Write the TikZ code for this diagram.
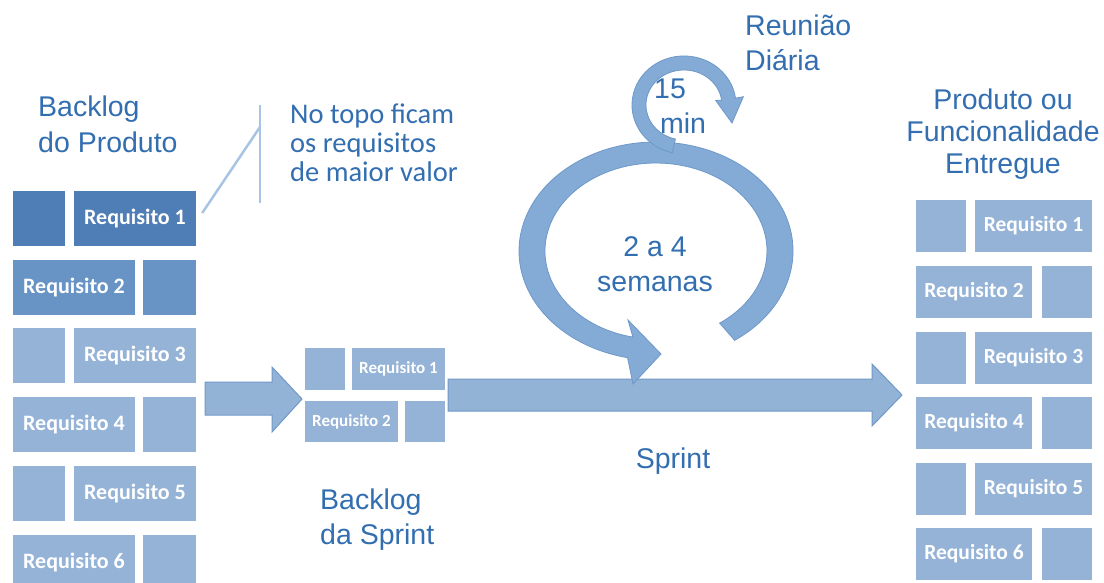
\documentclass[tikz,border=0pt]{standalone}
\usepackage{fontspec}
\setmainfont{Liberation Sans}
\newfontfamily\calfont{Carlito}
\definecolor{txt}{RGB}{50,110,176}
\definecolor{boxdark}{RGB}{79,125,181}
\definecolor{boxmid}{RGB}{103,148,197}
\definecolor{boxlight}{RGB}{149,179,215}
\definecolor{arrowfill}{RGB}{146,178,214}
\definecolor{arrowedge}{RGB}{112,152,200}
\definecolor{ringfill}{RGB}{132,171,214}
\definecolor{ringedge}{RGB}{110,152,200}
\definecolor{calloutline}{RGB}{168,196,228}
\begin{document}
\begin{tikzpicture}[x=1pt,y=-1pt,
  reqbox/.style={fill=boxlight, draw=none, inner sep=0pt, text=white,
    font=\calfont\bfseries\fontsize{22}{22}\selectfont},
  reqright/.style={reqbox, font=\calfont\bfseries\fontsize{21.5}{22}\selectfont},
  reqsmall/.style={reqbox, font=\calfont\bfseries\fontsize{17}{17}\selectfont},
  lbl/.style={text=txt, inner sep=0pt},
  blockarrow/.style={fill=arrowfill, draw=arrowedge, line width=1pt},
  ring/.style={fill=ringfill, draw=ringedge, line width=0.8pt}]
\useasboundingbox (0,0) rectangle (1104,582);
\fill[white] (0,0) rectangle (1104,582);

% ---- Backlog do Produto (left column)
\node[reqbox, fill=boxdark, minimum width=52pt, minimum height=55pt] (L1a) at (39,218.5) {};
\node[reqbox, fill=boxdark, minimum width=122pt, minimum height=55pt] (L1b) at (135,218.5) {Requisito 1};
\node[reqbox, fill=boxmid, minimum width=122pt, minimum height=55pt] (L2a) at (74,287.5) {Requisito 2};
\node[reqbox, fill=boxmid, minimum width=53pt, minimum height=55pt] (L2b) at (169.5,287.5) {};
\node[reqbox, minimum width=52pt, minimum height=55pt] (L3a) at (39,355.5) {};
\node[reqbox, minimum width=122pt, minimum height=55pt] (L3b) at (135,355.5) {Requisito 3};
\node[reqbox, minimum width=122pt, minimum height=55pt] (L4a) at (74,424.5) {Requisito 4};
\node[reqbox, minimum width=53pt, minimum height=55pt] (L4b) at (169.5,424.5) {};
\node[reqbox, minimum width=52pt, minimum height=55pt] (L5a) at (39,493.5) {};
\node[reqbox, minimum width=122pt, minimum height=55pt] (L5b) at (135,493.5) {Requisito 5};
\node[reqbox, minimum width=122pt, minimum height=55pt] (L6a) at (74,562.5) {Requisito 6};
\node[reqbox, minimum width=53pt, minimum height=55pt] (L6b) at (169.5,562.5) {};

\node[lbl, anchor=north west, align=left, font=\fontsize{28.5}{36}\selectfont] (bp) at (38,96) {Backlog\\do Produto};

% ---- callout
\coordinate (cb) at (260,127);
\draw[calloutline, line width=2.5pt] (L1b.east) ++(6,-5.5) -- (cb);
\draw[calloutline, line width=2.5pt] (260,105) coordinate (ct) -- (260,203) coordinate (cbot);
\node[lbl, anchor=north west, align=left, font=\calfont\fontsize{28.5}{29}\selectfont] (note) at (290,104) {No topo ficam\\os requisitos\\de maior valor};

% ---- arrow to sprint backlog
\fill[blockarrow] (205,382) -- (272,382) -- (272,367) -- (302,399) -- (272,432) -- (272,415) -- (205,415) -- cycle;

% ---- Backlog da Sprint
\node[reqsmall, minimum width=40pt, minimum height=42pt] (S1a) at (325,369) {};
\node[reqsmall, minimum width=93pt, minimum height=42pt] (S1b) at (398.5,369) {Requisito 1};
\node[reqsmall, minimum width=93pt, minimum height=41pt] (S2a) at (351.5,421.5) {Requisito 2};
\node[reqsmall, minimum width=40pt, minimum height=41pt] (S2b) at (425,421.5) {};
\node[lbl, anchor=north west, align=left, font=\fontsize{28.5}{35}\selectfont] (bs) at (320,489) {Backlog\\da Sprint};

% ---- Sprint arrow
\fill[blockarrow] (448,379) -- (872,379) -- (872,364) -- (902,395) -- (872,426) -- (872,411) -- (448,411) -- cycle;
\node[lbl, anchor=base, font=\fontsize{28.5}{35}\selectfont] (sprint) at (673,468) {Sprint};

% ---- big cycle (2 a 4 semanas)
\filldraw[ring] (734.6,340.3) arc[start angle=55, end angle=-258, x radius=137, y radius=109]
  -- (633,384) -- (661,354) -- (628,320) -- (632.9,337.1)
  arc[start angle=-258, end angle=55, x radius=111, y radius=88] -- cycle;
\node[lbl, anchor=north, align=center, font=\fontsize{28.5}{35}\selectfont] (weeks) at (655,236) {2 a 4\\semanas};

% ---- small cycle (daily meeting)
\filldraw[ring] (672.3,152.7) arc[start angle=103, end angle=352, x radius=52, y radius=49]
  -- (743.4,96.7) -- (732,123) -- (715.7,100.5) -- (721.6,100.1)
  arc[start angle=352, end angle=103, x radius=38, y radius=35] -- cycle;
\node[lbl, anchor=north, align=center, font=\fontsize{28.5}{35}\selectfont] (mins) at (683,79) {15\hspace*{26pt}\\min};
\node[lbl, anchor=north west, align=left, font=\fontsize{28.5}{35}\selectfont] (daily) at (745,15) {Reunião\\Diária};

% ---- Produto ou Funcionalidade Entregue (right column)
\node[lbl, anchor=north, align=center, font=\fontsize{28.5}{32}\selectfont] (prod) at (1003,89) {Produto ou\\Funcionalidade\\Entregue};
\node[reqright, minimum width=50pt, minimum height=52pt] (R1a) at (941,226) {};
\node[reqright, minimum width=117pt, minimum height=52pt] (R1b) at (1033.5,226) {Requisito 1};
\node[reqright, minimum width=116pt, minimum height=52pt] (R2a) at (974,292) {Requisito 2};
\node[reqright, minimum width=50pt, minimum height=52pt] (R2b) at (1067,292) {};
\node[reqright, minimum width=50pt, minimum height=52pt] (R3a) at (941,358) {};
\node[reqright, minimum width=117pt, minimum height=52pt] (R3b) at (1033.5,358) {Requisito 3};
\node[reqright, minimum width=116pt, minimum height=52pt] (R4a) at (974,423) {Requisito 4};
\node[reqright, minimum width=50pt, minimum height=52pt] (R4b) at (1067,423) {};
\node[reqright, minimum width=50pt, minimum height=52pt] (R5a) at (941,489) {};
\node[reqright, minimum width=117pt, minimum height=52pt] (R5b) at (1033.5,489) {Requisito 5};
\node[reqright, minimum width=116pt, minimum height=52pt] (R6a) at (974,554) {Requisito 6};
\node[reqright, minimum width=50pt, minimum height=52pt] (R6b) at (1067,554) {};
\end{tikzpicture}
\end{document}
